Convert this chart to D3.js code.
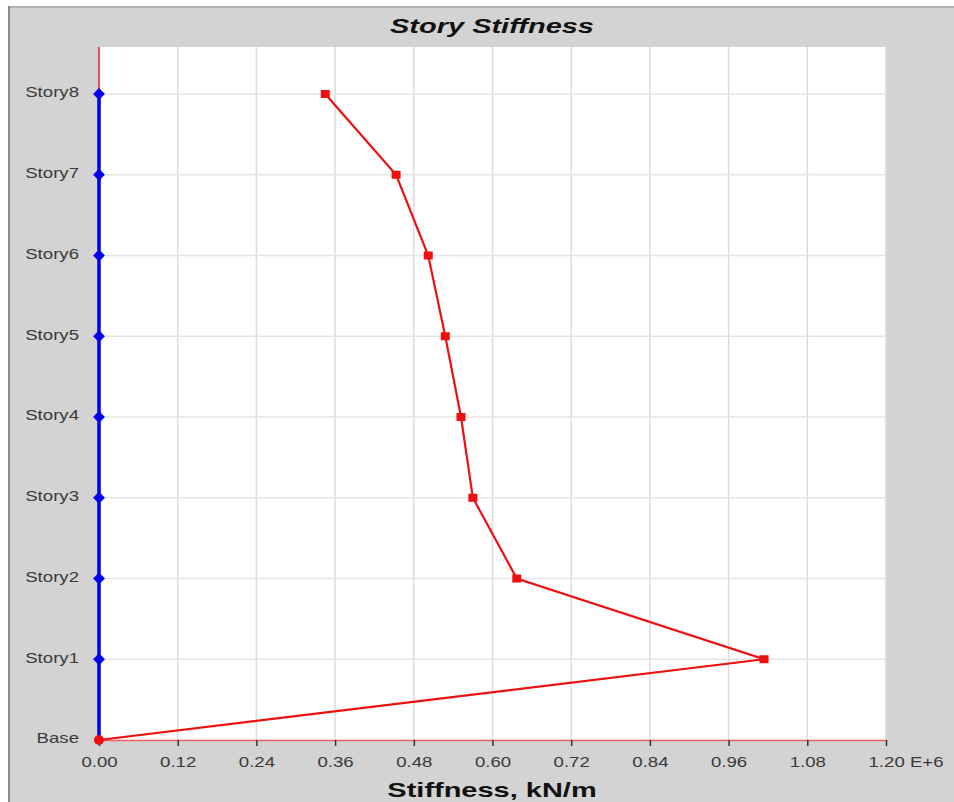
<!DOCTYPE html>
<html>
<head>
<meta charset="utf-8">
<script src="https://cdn.jsdelivr.net/npm/d3@7"></script>
<style>
  body { margin: 0; background: #fff; }
  svg { display: block; }
</style>
</head>
<body>
<div id="chart"></div>
<script>
// story levels, bottom to top
const stories = ['Base', 'Story1', 'Story2', 'Story3', 'Story4', 'Story5', 'Story6', 'Story7', 'Story8'];
// stiffness in E+6 kN/m
const stiffnessX = [0, 1.014, 0.637, 0.570, 0.552, 0.528, 0.502, 0.453, 0.345];
const stiffnessY = [0, 0, 0, 0, 0, 0, 0, 0, 0];
const xTicks = [0, 0.12, 0.24, 0.36, 0.48, 0.60, 0.72, 0.84, 0.96, 1.08, 1.20];

const W = 954, H = 802;
const plot = { left: 99, right: 886, top: 47, bottom: 740 };
const stretch = 1.33; // text in the original looks wide
const font = 'Arial, "Liberation Sans", sans-serif';

const svg = d3.select('#chart').append('svg')
    .attr('width', W)
    .attr('height', H);

// gray panel
svg.append('rect')
    .attr('x', 8).attr('y', 6)
    .attr('width', W - 8).attr('height', H - 6)
    .attr('fill', '#d3d3d3');
svg.append('line')
    .attr('x1', 8).attr('x2', W).attr('y1', 7).attr('y2', 7)
    .attr('stroke', '#b4b4b4').attr('stroke-width', 2);
svg.append('line')
    .attr('x1', 9).attr('x2', 9).attr('y1', 6).attr('y2', H)
    .attr('stroke', '#8a8a8a').attr('stroke-width', 2);

// plot area
svg.append('rect')
    .attr('x', plot.left).attr('y', plot.top)
    .attr('width', plot.right - plot.left).attr('height', plot.bottom - plot.top)
    .attr('fill', '#fff');

const x = d3.scaleLinear().domain([0, 1.2]).range([plot.left, plot.right]);
const y = d3.scalePoint().domain(stories).range([plot.bottom, 94]);

// grid
svg.append('g').selectAll('line')
    .data(xTicks.slice(1))
    .join('line')
    .attr('x1', d => x(d)).attr('x2', d => x(d))
    .attr('y1', plot.top).attr('y2', plot.bottom)
    .attr('stroke', '#dcdcdc').attr('stroke-width', 1.5);

svg.append('g').selectAll('line')
    .data(stories.slice(1))
    .join('line')
    .attr('x1', plot.left).attr('x2', plot.right)
    .attr('y1', d => y(d)).attr('y2', d => y(d))
    .attr('stroke', '#e4e4e4').attr('stroke-width', 1.5);

// x axis
const xAxis = svg.append('g')
    .attr('transform', `translate(0,${plot.bottom})`)
    .call(d3.axisBottom(x).tickValues(xTicks).tickSize(6).tickSizeOuter(0)
        .tickFormat((d, i) => d3.format('.2f')(d) + (i === xTicks.length - 1 ? ' E+6' : '')));
xAxis.select('.domain').attr('stroke', '#f06060').attr('stroke-width', 1.5);
xAxis.selectAll('.tick line').attr('stroke', '#333').attr('stroke-width', 1.5);
xAxis.selectAll('.tick text')
    .attr('dy', 0).attr('y', 0)
    .attr('transform', `translate(0,27) scale(${stretch},1)`)
    .attr('fill', '#3a3a3a')
    .style('font-family', font)
    .style('font-size', '14px');
xAxis.selectAll('.tick').filter((d, i) => i === xTicks.length - 1)
    .select('text')
    .attr('text-anchor', 'start')
    .attr('transform', `translate(-18,27) scale(${stretch},1)`);

// y axis labels
const yAxis = svg.append('g')
    .attr('transform', `translate(${plot.left},0)`)
    .call(d3.axisLeft(y).tickSize(4));
yAxis.select('.domain').remove();
yAxis.selectAll('.tick line').attr('stroke', '#555');
yAxis.selectAll('.tick text')
    .attr('x', 0)
    .attr('dy', '0.2em')
    .attr('transform', `translate(-20,0) scale(${stretch},1)`)
    .attr('fill', '#3a3a3a')
    .style('font-family', font)
    .style('font-size', '14px');

// red vertical stub above top story
svg.append('line')
    .attr('x1', x(0)).attr('x2', x(0))
    .attr('y1', plot.top).attr('y2', y('Story8'))
    .attr('stroke', '#e02020').attr('stroke-width', 1.5);

// blue series (Y direction)
const line = d3.line()
    .x(d => x(d.v))
    .y(d => y(d.s));
const dataY = stories.map((s, i) => ({ s, v: stiffnessY[i] }));
svg.append('path')
    .datum(dataY)
    .attr('d', line)
    .attr('fill', 'none')
    .attr('stroke', '#0000ee')
    .attr('stroke-width', 3.5);
svg.append('g').selectAll('path')
    .data(dataY.slice(1))
    .join('path')
    .attr('transform', d => `translate(${x(d.v)},${y(d.s)})`)
    .attr('d', d3.symbol(d3.symbolDiamond2, 60))
    .attr('fill', '#0000ee')
    .attr('stroke', '#0000ee')
    .attr('stroke-width', 1.5);

// red series (X direction)
const dataX = stories.map((s, i) => ({ s, v: stiffnessX[i] }));
svg.append('path')
    .datum(dataX)
    .attr('d', line)
    .attr('fill', 'none')
    .attr('stroke', '#ee1010')
    .attr('stroke-width', 2.2);
svg.append('g').selectAll('rect')
    .data(dataX.slice(1))
    .join('rect')
    .attr('x', d => x(d.v) - 4.5)
    .attr('y', d => y(d.s) - 4)
    .attr('width', 9).attr('height', 8)
    .attr('fill', '#ee1010');
svg.append('circle')
    .attr('cx', x(0)).attr('cy', y('Base'))
    .attr('r', 5)
    .attr('fill', '#ee1010');

// titles
svg.append('text')
    .attr('transform', 'translate(492,33) scale(1.38,1)')
    .attr('text-anchor', 'middle')
    .style('font-family', font)
    .style('font-size', '21px')
    .style('font-weight', 'bold')
    .style('font-style', 'italic')
    .attr('fill', '#111')
    .text('Story Stiffness');

svg.append('text')
    .attr('transform', 'translate(492,797) scale(1.38,1)')
    .attr('text-anchor', 'middle')
    .style('font-family', font)
    .style('font-size', '21px')
    .style('font-weight', 'bold')
    .attr('fill', '#111')
    .text('Stiffness, kN/m');
</script>
</body>
</html>
